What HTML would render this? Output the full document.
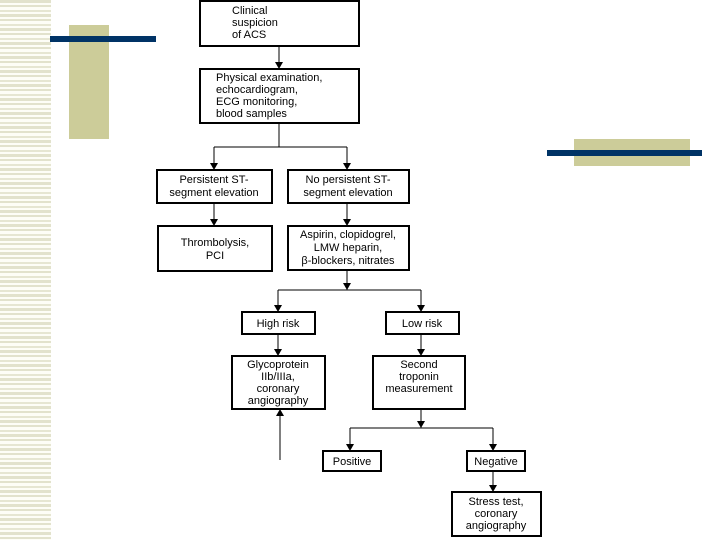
<!DOCTYPE html>
<html><head><meta charset="utf-8"><style>
html,body{margin:0;padding:0;background:#fff;}
svg{display:block;}
text{font-family:"Liberation Sans",sans-serif;font-size:11px;fill:#000;}
</style></head><body>
<svg width="720" height="540" viewBox="0 0 720 540" xmlns="http://www.w3.org/2000/svg">
<defs>
<pattern id="st" width="51" height="14" patternUnits="userSpaceOnUse">
<rect width="51" height="14" fill="#fdfdf6"/>
<rect y="0" width="51" height="3" fill="#e2e2cc"/>
<rect y="5" width="51" height="2" fill="#e2e2cc"/>
<rect y="10" width="51" height="2" fill="#e6e6d2"/>
</pattern>
<marker id="a" markerWidth="8" markerHeight="8" refX="7" refY="4" orient="auto" markerUnits="userSpaceOnUse">
<path d="M0,0 L7,4 L0,8 Z" fill="#000"/>
</marker>
</defs>
<rect x="0" y="0" width="51" height="540" fill="url(#st)"/>
<rect x="69" y="25" width="40" height="114" fill="#cccc99"/>
<rect x="50" y="36" width="106" height="6" fill="#003366"/>
<rect x="574" y="139" width="116" height="27" fill="#cccc99"/>
<rect x="547" y="150" width="155" height="6" fill="#003366"/>

<g fill="none" stroke="#000" stroke-width="2">
<rect x="200" y="1" width="159" height="45"/>
<rect x="200" y="69" width="159" height="54"/>
<rect x="157" y="170" width="115" height="33"/>
<rect x="288" y="170" width="121" height="33"/>
<rect x="158" y="226" width="114" height="45"/>
<rect x="288" y="226" width="121" height="44"/>
<rect x="242" y="312" width="73" height="22"/>
<rect x="386" y="312" width="73" height="22"/>
<rect x="232" y="356" width="93" height="53"/>
<rect x="373" y="356" width="92" height="53"/>
<rect x="323" y="451" width="58" height="20"/>
<rect x="467" y="451" width="58" height="20"/>
<rect x="452" y="492" width="89" height="44"/>
</g>
<g fill="none" stroke="#000" stroke-width="1">
<line x1="279" y1="46" x2="279" y2="69" marker-end="url(#a)"/>
<line x1="279" y1="123" x2="279" y2="147"/>
<line x1="214" y1="147" x2="347" y2="147"/>
<line x1="214" y1="147" x2="214" y2="170" marker-end="url(#a)"/>
<line x1="347" y1="147" x2="347" y2="170" marker-end="url(#a)"/>
<line x1="214" y1="203" x2="214" y2="226" marker-end="url(#a)"/>
<line x1="347" y1="203" x2="347" y2="226" marker-end="url(#a)"/>
<line x1="347" y1="270" x2="347" y2="290" marker-end="url(#a)"/>
<line x1="278" y1="290" x2="421" y2="290"/>
<line x1="278" y1="290" x2="278" y2="312" marker-end="url(#a)"/>
<line x1="421" y1="290" x2="421" y2="312" marker-end="url(#a)"/>
<line x1="278" y1="334" x2="278" y2="356" marker-end="url(#a)"/>
<line x1="421" y1="334" x2="421" y2="356" marker-end="url(#a)"/>
<line x1="421" y1="409" x2="421" y2="428" marker-end="url(#a)"/>
<line x1="350" y1="428" x2="493" y2="428"/>
<line x1="350" y1="428" x2="350" y2="451" marker-end="url(#a)"/>
<line x1="493" y1="428" x2="493" y2="451" marker-end="url(#a)"/>
<line x1="493" y1="471" x2="493" y2="492" marker-end="url(#a)"/>
<line x1="280" y1="460" x2="280" y2="409" marker-end="url(#a)"/>
</g>

<text x="232" y="14">Clinical</text>
<text x="232" y="26">suspicion</text>
<text x="232" y="38">of ACS</text>
<text x="216" y="81">Physical examination,</text>
<text x="216" y="93">echocardiogram,</text>
<text x="216" y="105">ECG monitoring,</text>
<text x="216" y="117">blood samples</text>
<g text-anchor="middle">
<text x="214" y="183">Persistent ST-</text>
<text x="214" y="196">segment elevation</text>
<text x="348" y="183">No persistent ST-</text>
<text x="348" y="196">segment elevation</text>
<text x="215" y="246">Thrombolysis,</text>
<text x="215" y="259">PCI</text>
<text x="348" y="238">Aspirin, clopidogrel,</text>
<text x="348" y="251">LMW heparin,</text>
<text x="348" y="264">β-blockers, nitrates</text>
<text x="278" y="327">High risk</text>
<text x="422" y="327">Low risk</text>
<text x="278" y="368">Glycoprotein</text>
<text x="278" y="380">IIb/IIIa,</text>
<text x="278" y="392">coronary</text>
<text x="278" y="404">angiography</text>
<text x="419" y="368">Second</text>
<text x="419" y="380">troponin</text>
<text x="419" y="392">measurement</text>
<text x="352" y="465">Positive</text>
<text x="496" y="465">Negative</text>
<text x="496" y="505">Stress test,</text>
<text x="496" y="517">coronary</text>
<text x="496" y="529">angiography</text>
</g>
</svg>
</body></html>
